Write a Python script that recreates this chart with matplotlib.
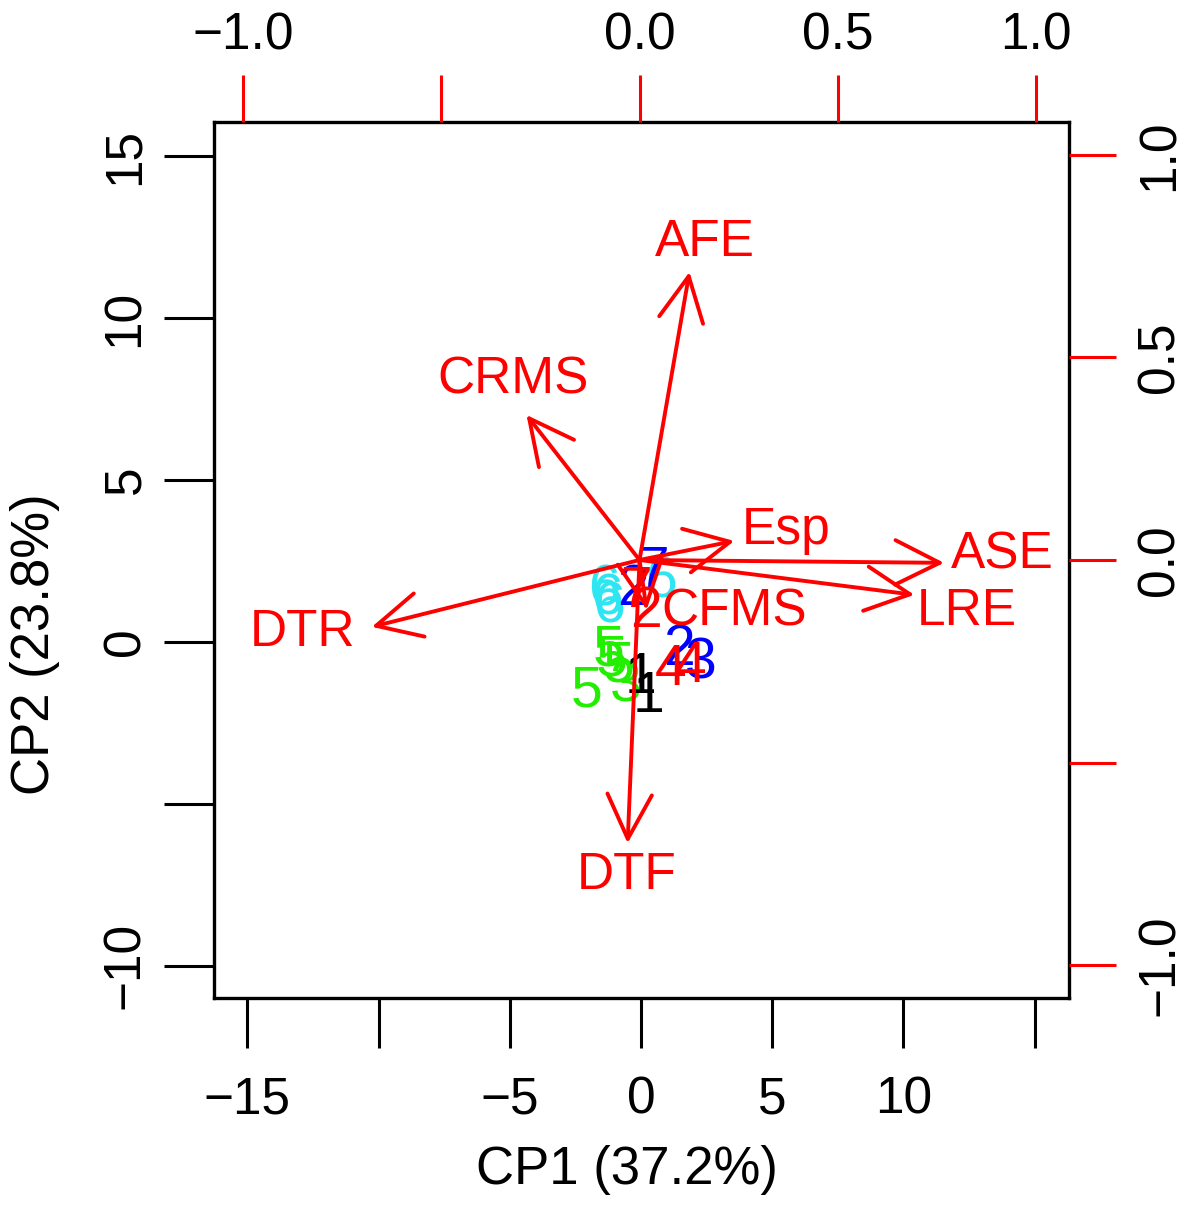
import numpy as np
import matplotlib.pyplot as plt
from matplotlib.patches import FancyArrowPatch

plt.rcParams['font.family'] = ['Liberation Sans', 'DejaVu Sans']

# Scores of the observations (CP1, CP2) with their group label
score_x = [-1.41, -1.29, -1.22, 0.76, -0.30, 0.46, -0.19, 0.19,
           -1.25, -1.14, -0.84, -0.57, -2.09, 0.00, 0.30,
           1.44, 2.28, 1.14, 1.90]
score_y = [1.60, 1.30, 1.05, 1.85, 1.60, 2.16, 1.54, 0.93,
           -0.25, -0.56, -0.77, -1.39, -1.54, -1.11, -1.70,
           -0.25, -0.65, -0.86, -0.77]
score_lab = ['6', '6', '6', '6', '2', '7', '7', '2',
             '5', '5', '5', '3', '5', '1', '1',
             '2', '3', '4', '4']
score_col = ['#2EE6F2', '#2EE6F2', '#2EE6F2', '#2EE6F2', '#0000FF', '#0000FF', '#FF0000', '#FF0000',
             '#22EE00', '#22EE00', '#22EE00', '#22EE00', '#22EE00', '#000000', '#000000',
             '#0000FF', '#0000FF', '#FF0000', '#FF0000']

# Variable loadings: arrow tips and label positions
var_names = ['AFE', 'CRMS', 'Esp', 'ASE', 'LRE', 'CFMS', 'DTR', 'DTF']
load_x = [0.126, -0.285, 0.239, 0.768, 0.693, 0.018, -0.675, -0.030]
load_y = [0.711, 0.358, 0.047, -0.007, -0.086, -0.123, -0.165, -0.699]
lab_x = [0.164, -0.320, 0.370, 0.914, 0.826, 0.239, -0.851, -0.033]
lab_y = [0.783, 0.444, 0.074, 0.012, -0.128, -0.128, -0.178, -0.778]

xticks_b = [-15, -10, -5, 0, 5, 10, 15]
xlabels_b = ['\u221215', '', '\u22125', '0', '5', '10', '']
yticks_l = [-10, -5, 0, 5, 10, 15]
ylabels_l = ['\u221210', '', '0', '5', '10', '15']
ticks_t = [-1.0, -0.5, 0.0, 0.5, 1.0]
labels_t = ['\u22121.0', '', '0.0', '0.5', '1.0']
labels_r = ['\u22121.0', '', '0.0', '0.5', '1.0']

FS = 37

W, H = 1196, 1206
fig = plt.figure(figsize=(W / 100, H / 100), dpi=100)
rect = [214 / W, 1 - 998 / H, 855 / W, 876 / H]

ax = fig.add_axes(rect)
ax.set_xlim(-16.27, 16.31)
ax.set_ylim(-10.99, 16.05)
for sp in ax.spines.values():
    sp.set_linewidth(2.4)
ax.set_xticks(xticks_b)
ax.set_xticklabels(xlabels_b)
ax.set_yticks(yticks_l)
ax.set_yticklabels(ylabels_l, rotation=90, va='center')
ax.tick_params(axis='x', length=36, width=2.2, labelsize=FS, pad=20)
ax.tick_params(axis='y', length=36, width=2.2, labelsize=FS, pad=10)

for x, y, t, c in zip(score_x, score_y, score_lab, score_col):
    ax.text(x, y, t, color=c, fontsize=41, ha='center', va='center')

# loadings drawn on their own scale, top and right axes
ax2 = fig.add_axes(rect, facecolor='none')
ax2.set_xlim(-1.073, 1.083)
ax2.set_ylim(-1.081, 1.081)
for sp in ax2.spines.values():
    sp.set_visible(False)
ax2.xaxis.tick_top()
ax2.yaxis.tick_right()
ax2.set_xticks(ticks_t)
ax2.set_xticklabels(labels_t)
ax2.set_yticks(ticks_t)
ax2.set_yticklabels(labels_r, rotation=90, va='center')
ax2.tick_params(axis='x', length=34, width=2.2, colors='#FF0000', labelcolor='black',
                labelsize=FS, pad=10)
ax2.tick_params(axis='y', length=34, width=2.2, colors='#FF0000', labelcolor='black',
                labelsize=FS, pad=14)

for x, y in zip(load_x, load_y):
    arr = FancyArrowPatch((0, 0), (x, y), arrowstyle='->,head_length=32,head_width=16',
                          mutation_scale=1, color='#FF0000', lw=2.8,
                          shrinkA=0, shrinkB=0)
    ax2.add_patch(arr)
for x, y, t in zip(lab_x, lab_y, var_names):
    ax2.text(x, y, t, color='#FF0000', fontsize=FS, ha='center', va='center')

fig.text(627 / W, 1 - 1170 / H, 'CP1 (37.2%)', fontsize=FS + 1, ha='center', va='center')
fig.text(35 / W, 1 - 644 / H, 'CP2 (23.8%)', fontsize=FS + 1, ha='center', va='center',
         rotation=90)

fig.savefig('out.png', dpi=100)
